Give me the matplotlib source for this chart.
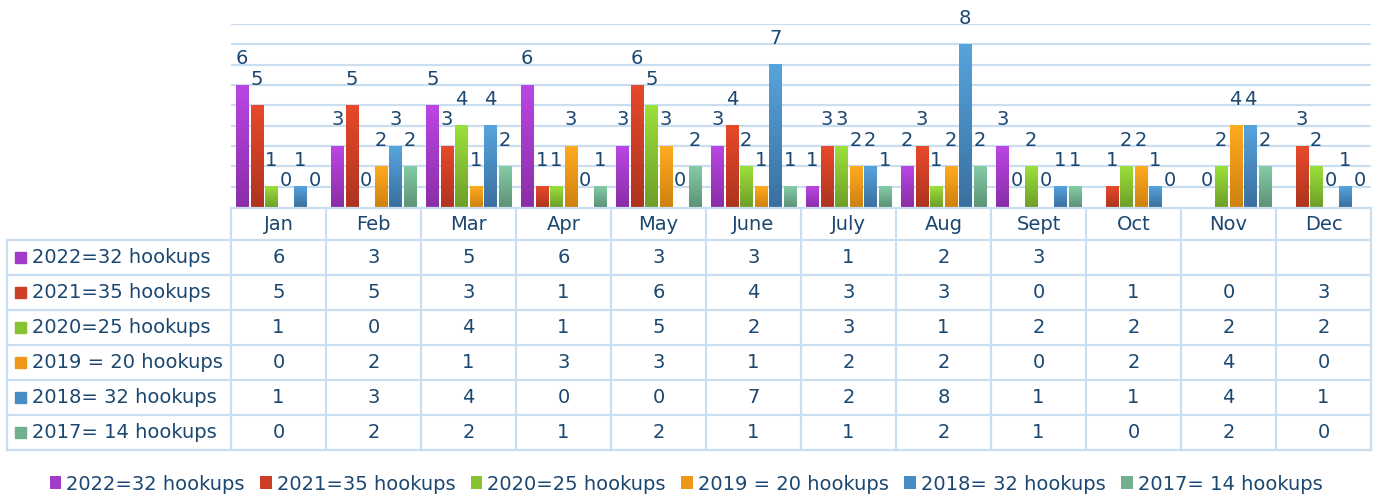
import numpy as np
import matplotlib
matplotlib.use("Agg")
import matplotlib.pyplot as plt
from matplotlib.colors import LinearSegmentedColormap
from matplotlib.patches import Patch, Rectangle

months = ["Jan", "Feb", "Mar", "Apr", "May", "June", "July", "Aug", "Sept", "Oct", "Nov", "Dec"]
series_names = ["2022=32 hookups", "2021=35 hookups", "2020=25 hookups",
                "2019 = 20 hookups", "2018= 32 hookups", "2017= 14 hookups"]
y2022 = [6, 3, 5, 6, 3, 3, 1, 2, 3, None, None, None]
y2021 = [5, 5, 3, 1, 6, 4, 3, 3, 0, 1, 0, 3]
y2020 = [1, 0, 4, 1, 5, 2, 3, 1, 2, 2, 2, 2]
y2019 = [0, 2, 1, 3, 3, 1, 2, 2, 0, 2, 4, 0]
y2018 = [1, 3, 4, 0, 0, 7, 2, 8, 1, 1, 4, 1]
y2017 = [0, 2, 2, 1, 2, 1, 1, 2, 1, 0, 2, 0]
series = [y2022, y2021, y2020, y2019, y2018, y2017]

# (top, bottom) gradient colours
grad = [("#BA46E3", "#8A2EA6"), ("#E7492B", "#AE3420"), ("#9CE03A", "#6E9F29"),
        ("#FFAB20", "#CF8110"), ("#56A4DD", "#3A709F"), ("#83CCA5", "#5D9378")]
mid = ["#A23CC8", "#CC3F26", "#86C232", "#EE981A", "#478CC2", "#70B08E"]

txt = "#1B4770"
grid_c = "#C9DFF1"
W, H = 1382, 496
fs = 14

plt.rcParams['font.family'] = ['DejaVu Sans']
fig = plt.figure(figsize=(W / 100, H / 100), dpi=100)

ax = fig.add_axes([231 / W, (H - 207) / H, 1140 / W, 183 / H])
x = np.arange(len(months))
step = 0.1526
bw = 0.131
for k, vals in enumerate(series):
    cmap = LinearSegmentedColormap.from_list("g%d" % k, [grad[k][1], grad[k][0]])
    for i, v in enumerate(vals):
        if v is None:
            continue
        xc = x[i] + (k - 2.5) * step
        if v > 0:
            g = np.linspace(0, 1, 64).reshape(-1, 1)
            ax.imshow(g, extent=[xc - bw / 2, xc + bw / 2, 0, v], origin="lower",
                      aspect="auto", cmap=cmap, zorder=3)
        ax.annotate(str(v), (xc, v), xytext=(0, 12), textcoords="offset points",
                    ha="center", va="bottom", fontsize=fs, color=txt, zorder=4,
                    annotation_clip=False)

ax.set_xlim(-0.5, len(months) - 0.5)
ax.set_ylim(0, 9)
ax.set_yticks(range(1, 10))
ax.yaxis.grid(True, color=grid_c, lw=1.6, zorder=0)
ax.tick_params(left=False, bottom=False, labelleft=False, labelbottom=False)
for s in ax.spines.values():
    s.set_visible(False)

# data table
tb = fig.add_axes([0, 0, 1, 1], facecolor="none")
tb.set_xlim(0, W)
tb.set_ylim(H, 0)
tb.axis("off")
left, c0, cw = 7, 231, 95
top_h, rows_top, rh = 208, 240, 35
nrow = len(series)
bottom = rows_top + nrow * rh
right = c0 + cw * len(months)
lk = dict(color=grid_c, lw=1.6)
tb.plot([c0, right], [top_h, top_h], **lk)
for r in range(nrow + 1):
    y = rows_top + r * rh
    tb.plot([left, right], [y, y], **lk)
tb.plot([left, left], [rows_top, bottom], **lk)
for c in range(len(months) + 1):
    xx = c0 + c * cw
    tb.plot([xx, xx], [top_h, bottom], **lk)
for c, m in enumerate(months):
    tb.text(c0 + (c + 0.5) * cw, (top_h + rows_top) / 2, m, ha="center", va="center",
            fontsize=fs, color=txt)
for r, (name, vals) in enumerate(zip(series_names, series)):
    yc = rows_top + (r + 0.5) * rh
    tb.add_patch(Rectangle((15, yc - 6), 11, 11, color=mid[r]))
    tb.text(32, yc, name, ha="left", va="center", fontsize=fs, color=txt)
    for c, v in enumerate(vals):
        if v is None:
            continue
        tb.text(c0 + (c + 0.5) * cw, yc, str(v), ha="center", va="center",
                fontsize=fs, color=txt)

handles = [Patch(facecolor=mid[k], label=series_names[k]) for k in range(nrow)]
leg = fig.legend(handles=handles, loc="center", bbox_to_anchor=(686 / W, 1 - 484 / H),
                 ncol=6, frameon=False, fontsize=fs, handlelength=0.6, handleheight=0.6,
                 handletextpad=0.25, columnspacing=0.8)
for t in leg.get_texts():
    t.set_color(txt)

fig.savefig("out.png", dpi=100)
